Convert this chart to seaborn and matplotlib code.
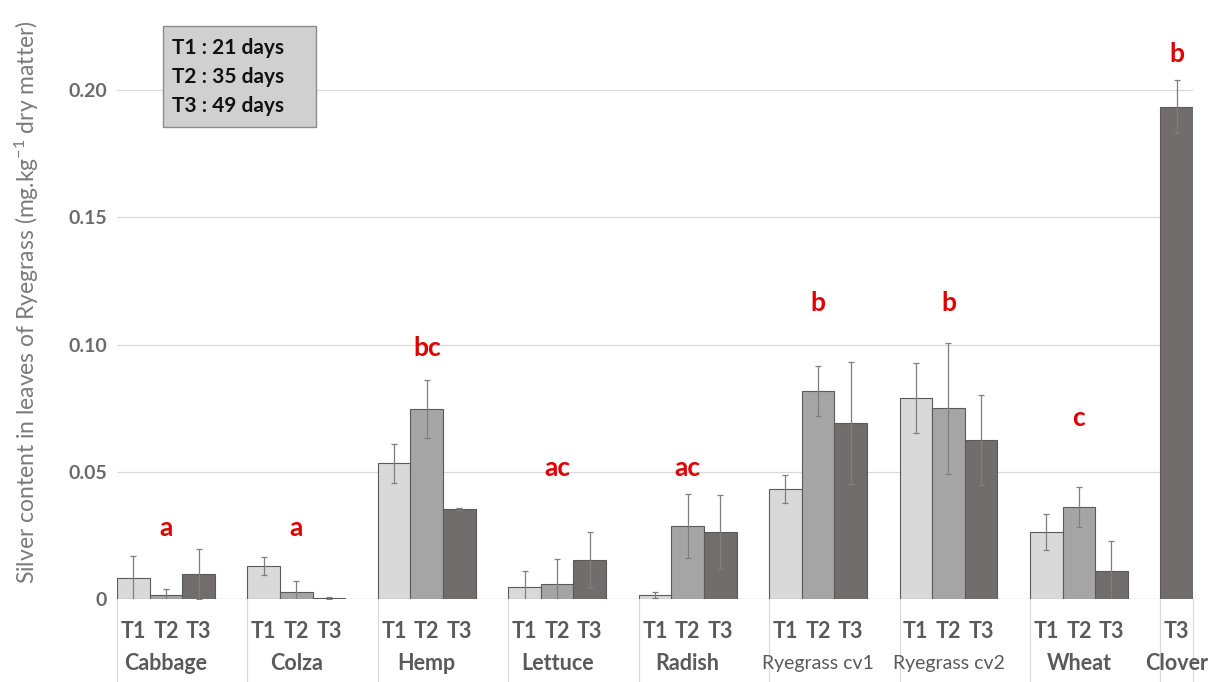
import numpy as np
import pandas as pd
import matplotlib
matplotlib.use("Agg")
import matplotlib.pyplot as plt
import matplotlib.transforms as mtransforms
from matplotlib.patches import Rectangle
import seaborn as sns

# ---------------- data ----------------
plants = ["Cabbage", "Colza", "Hemp", "Lettuce", "Radish",
          "Ryegrass cv1", "Ryegrass cv2", "Wheat", "Clover"]
times = ["T1", "T2", "T3"]
t1_mean = [0.0083, 0.0130, 0.0533, 0.0047, 0.0016, 0.0433, 0.0790, 0.0262, np.nan]
t1_err = [0.0086, 0.0035, 0.0077, 0.0063, 0.0012, 0.0055, 0.0137, 0.0071, np.nan]
t2_mean = [0.0015, 0.0027, 0.0746, 0.0057, 0.0288, 0.0818, 0.0750, 0.0362, np.nan]
t2_err = [0.0025, 0.0043, 0.0114, 0.0100, 0.0126, 0.0098, 0.0257, 0.0080, np.nan]
t3_mean = [0.0098, 0.0004, 0.0353, 0.0153, 0.0263, 0.0692, 0.0623, 0.0110, 0.1935]
t3_err = [0.0097, 0.0003, 0.0003, 0.0110, 0.0146, 0.0240, 0.0177, 0.0116, 0.0105]
letters = ["a", "a", "bc", "ac", "ac", "b", "b", "c", "b"]
letter_y = [0.028, 0.028, 0.0986, 0.0515, 0.0515, 0.1165, 0.1165, 0.071, 0.214]
legend_lines = ["T1 : 21 days", "T2 : 35 days", "T3 : 49 days"]
yticks = [0, 0.05, 0.10, 0.15, 0.20]
ytick_labels = ["0", "0.05", "0.10", "0.15", "0.20"]
ylabel = "Silver content in leaves of Ryegrass (mg.kg$^{\\mathregular{-1}}$ dry matter)"

# ---------------- build table ----------------
rows = []
order = []
for i, p in enumerate(plants):
    means = [t1_mean[i], t2_mean[i], t3_mean[i]]
    errs = [t1_err[i], t2_err[i], t3_err[i]]
    for t, m, e in zip(times, means, errs):
        if np.isnan(m):
            continue
        slot = f"{p}|{t}"
        order.append(slot)
        rows.append(dict(slot=slot, plant=p, T=t, value=m, err=e))
    if i < len(plants) - 1:
        order.append(f"gap{i}")
df = pd.DataFrame(rows)

# ---------------- style ----------------
sns.set_theme(style="white")
plt.rcParams["font.family"] = ["Lato", "DejaVu Sans"]
plt.rcParams["mathtext.default"] = "regular"

W, H = 1224, 682
fig = plt.figure(figsize=(W / 100, H / 100), dpi=100)
ax = fig.add_axes([117 / W, 83 / H, 1076 / W, 599 / H])

palette = {"T1": "#d9d9d9", "T2": "#a5a5a5", "T3": "#716d6d"}
sns.barplot(data=df, x="slot", y="value", hue="T", order=order,
            hue_order=times, palette=palette, dodge=False, width=1.0,
            edgecolor="#5a5a5a", linewidth=0.8, errorbar=None,
            legend=False, ax=ax, saturation=1)

pos = {s: k for k, s in enumerate(order)}
xs = [pos[s] for s in df["slot"]]
ax.errorbar(xs, df["value"], yerr=df["err"], fmt="none", ecolor="#7f7f7f",
            elinewidth=0.9, capsize=2.5, capthick=0.9, zorder=5)

ax.set_xlim(-0.5, len(order) - 0.5)
ax.set_ylim(0, 599 / 2545)
ax.set_yticks(yticks)
ax.set_yticklabels(ytick_labels)
ax.yaxis.grid(True, color="#d9d9d9", linewidth=0.9)
ax.set_axisbelow(True)
for sp in ax.spines.values():
    sp.set_visible(False)
ax.axhline(0, color="#d9d9d9", linewidth=0.9, zorder=0.5)

ax.tick_params(axis="y", length=0, pad=7, labelsize=14, labelcolor="#6b6b6b")
for lab in ax.get_yticklabels():
    lab.set_fontweight("bold")

ax.set_xticks(xs)
ax.set_xticklabels(df["T"].tolist())
ax.tick_params(axis="x", length=0, pad=16, labelsize=15.5, labelcolor="#5a5a5a")
for lab in ax.get_xticklabels():
    lab.set_fontweight("bold")
ax.set_xlabel("")
ax.set_ylabel("")

trans = mtransforms.blended_transform_factory(ax.transData, ax.transAxes)
# separators
first_slots = [pos[df[df.plant == p]["slot"].iloc[0]] for p in plants]
sep_x = [f - 0.5 for f in first_slots] + [len(order) - 0.5]
for x in sep_x:
    ax.plot([x, x], [0, -83 / 599], transform=trans, color="#d9d9d9",
            linewidth=0.9, clip_on=False)

# group names
for p in plants:
    sl = [pos[s] for s in df[df.plant == p]["slot"]]
    cx = np.mean(sl)
    if p.startswith("Ryegrass"):
        ax.text(cx, -65 / 599, p, transform=trans, ha="center", va="center",
                fontsize=14, color="#5a5a5a")
    else:
        ax.text(cx, -65 / 599, p, transform=trans, ha="center", va="center",
                fontsize=15.5, fontweight="bold", color="#5a5a5a")

# significance letters
for p, l, yv in zip(plants, letters, letter_y):
    sl = [pos[s] for s in df[df.plant == p]["slot"]]
    ax.text(np.mean(sl), yv, l, ha="center", va="center", fontsize=19,
            fontweight="bold", color="#e00000")

# legend box
fig.patches.append(Rectangle((163 / W, 1 - 127 / H), 153 / W, 101 / H,
                             transform=fig.transFigure, facecolor="#d0d0d0",
                             edgecolor="#8c8c8c", linewidth=1.0, zorder=10))
for k, t in enumerate(legend_lines):
    fig.text(172 / W, 1 - (48 + 29 * k) / H, t, ha="left", va="center",
             fontsize=15, fontweight="bold", color="#111111", zorder=11)

fig.text(27 / W, 1 - 302 / H, ylabel, rotation=90, ha="center", va="center",
         fontsize=16.5, color="#7a7a7a")

fig.savefig("out.png", dpi=100)
